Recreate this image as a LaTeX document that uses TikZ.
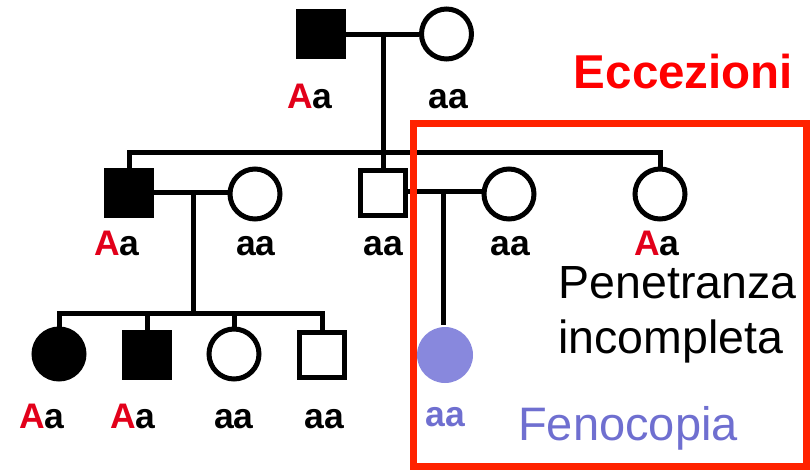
\documentclass[tikz,border=0pt]{standalone}
\usepackage{fontspec}
\setmainfont{Liberation Sans}
\definecolor{allele}{HTML}{E2001A}
\definecolor{frame}{HTML}{FF2200}
\definecolor{headred}{HTML}{FF0000}
\definecolor{phenofill}{HTML}{8888DD}
\definecolor{phenotext}{HTML}{6F6FD0}
\begin{document}
\begin{tikzpicture}[x=1pt,y=-1pt,
  line width=5pt,
  male/.style={draw, line width=5pt, minimum size=45pt, inner sep=0pt, shape=rectangle},
  female/.style={draw, line width=5pt, minimum size=50pt, inner sep=0pt, shape=circle},
  affected/.style={fill=black},
  pheno/.style={shape=circle, fill=phenofill, minimum size=56pt, inner sep=0pt},
  geno/.style={anchor=base, inner sep=0pt, font=\fontsize{35.5}{35.5}\selectfont\bfseries},
  bigtext/.style={anchor=base, inner sep=0pt, font=\fontsize{47}{47}\selectfont},
  rel/.style={line width=5pt}]
\useasboundingbox (0,0) rectangle (810,469);

% generation I
\node[male, affected] (I1) at (321,34) {};
\node[female] (I2) at (446.5,34) {};
% generation II
\node[male, affected] (II1) at (129,193) {};
\node[female] (II2) at (255,194) {};
\node[male] (II3) at (383,193) {};
\node[female] (II4) at (509,194) {};
\node[female] (II5) at (660,194) {};
% generation III
\node[female, affected] (III1) at (59,354) {};
\node[male, affected] (III2) at (147,355) {};
\node[female] (III3) at (234,354) {};
\node[male] (III4) at (322,355) {};
\node[pheno] (III5) at (445,355) {};

% junction points
\coordinate (m1) at (383,34);
\coordinate (s2) at (383,152);
\coordinate (m2) at (193,192);
\coordinate (s3) at (193,313);
\coordinate (m3) at (443,191);

% matings and descent
\draw[rel] (I1.east |- m1) -- (I2.west |- m1);
\draw[rel] (m1) -- (s2);
\draw[rel] (II1.north) |- (s2) -| (II5.north);
\draw[rel] (s2) -- (II3.north);

\draw[rel] (II1.east |- m2) -- (II2.west |- m2);
\draw[rel] (m2) -- (s3);
\draw[rel] (III1.north) |- (s3) -| (III4.north);
\draw[rel] (III2.north |- s3) -- (III2.north);
\draw[rel] (III3.north |- s3) -- (III3.north);

\draw[rel] (II3.east |- m3) -- (II4.west |- m3);
\draw[rel] (m3) -- (III5.north -| m3);

% genotypes
\node[geno] (gI1) at (310,108) {\textcolor{allele}{A}a};
\node[geno] (gI2) at (448,108) {aa};
\node[geno] (gII1) at (117,255) {\textcolor{allele}{A}a};
\node[geno] (gII2) at (256,255) {aa};
\node[geno] (gII3) at (383,255) {aa};
\node[geno] (gII4) at (510,255) {aa};
\node[geno] (gII5) at (657,255) {\textcolor{allele}{A}a};
\node[geno] (gIII1) at (42,428) {\textcolor{allele}{A}a};
\node[geno] (gIII2) at (133,428) {\textcolor{allele}{A}a};
\node[geno] (gIII3) at (234,428) {aa};
\node[geno] (gIII4) at (324,428) {aa};
\node[geno, text=phenotext] (gIII5) at (445,426) {aa};

% exceptions frame and captions
\draw[frame, line width=7pt] (413.5,123.5) rectangle (806,466);
\node[bigtext, text=headred, font=\fontsize{47.5}{47.5}\selectfont\bfseries] (title) at (683.5,88) {Eccezioni};
\node[bigtext, anchor=base west, font=\fontsize{46.5}{46.5}\selectfont] (pen1) at (556,298) {Penetranza};
\node[bigtext, anchor=base west, font=\fontsize{46.5}{46.5}\selectfont] (pen2) at (556,353) {incompleta};
\node[bigtext, text=phenotext] (feno) at (628,440) {Fenocopia};
\end{tikzpicture}
\end{document}
